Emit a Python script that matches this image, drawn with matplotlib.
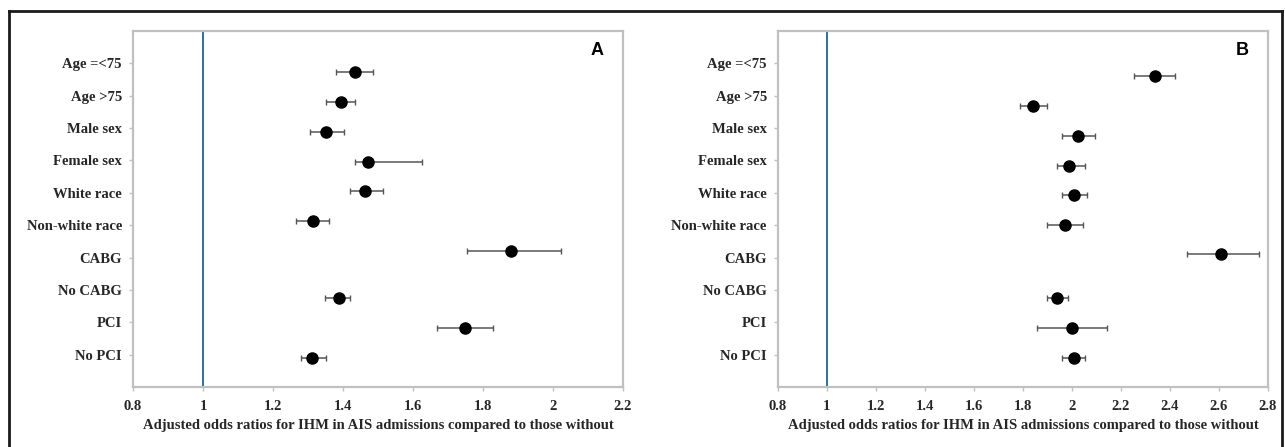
import matplotlib.pyplot as plt
from matplotlib.lines import Line2D

CATEGORIES = ['Age =<75', 'Age >75', 'Male sex', 'Female sex', 'White race',
              'Non-white race', 'CABG', 'No CABG', 'PCI', 'No PCI']

# panel A: odds ratio, lower and upper CI
OR_A = [1.433, 1.393, 1.352, 1.472, 1.462, 1.314, 1.880, 1.389, 1.748, 1.311]
LO_A = [1.381, 1.352, 1.305, 1.433, 1.421, 1.265, 1.753, 1.350, 1.668, 1.280]
HI_A = [1.485, 1.433, 1.404, 1.625, 1.515, 1.361, 2.023, 1.419, 1.828, 1.352]
ROW_A = [9.73, 8.81, 7.88, 6.95, 6.06, 5.13, 4.20, 2.75, 1.82, 0.90]

# panel B
OR_B = [2.339, 1.842, 2.024, 1.990, 2.010, 1.970, 2.608, 1.939, 1.999, 2.010]
LO_B = [2.255, 1.788, 1.960, 1.939, 1.960, 1.897, 2.469, 1.897, 1.859, 1.960]
HI_B = [2.422, 1.897, 2.094, 2.052, 2.062, 2.044, 2.763, 1.982, 2.144, 2.052]
ROW_B = [9.61, 8.68, 7.76, 6.83, 5.93, 5.01, 4.11, 2.75, 1.82, 0.90]

XTICKS_A = [0.8, 1, 1.2, 1.4, 1.6, 1.8, 2, 2.2]
XTICKS_B = [0.8, 1, 1.2, 1.4, 1.6, 1.8, 2, 2.2, 2.4, 2.6, 2.8]
XLABEL = 'Adjusted odds ratios for IHM in AIS admissions compared to those without'

SPINE_GRAY = '#c0c0c0'
TEXT_COLOR = '#262626'
SERIF = ['Liberation Serif', 'DejaVu Serif']
FONT_SIZE = 10.5


def tick_text(value):
    return f'{value:g}'


def draw_panel(ax, odds, low, high, rows, xticks, letter):
    ax.axvline(1, color='#2e6da4', linewidth=1.4, zorder=1)
    err = [[o - l for o, l in zip(odds, low)], [h - o for o, h in zip(odds, high)]]
    ax.errorbar(odds, rows, xerr=err, fmt='o', color='black', markersize=8,
                ecolor='#555555', elinewidth=1.1, capsize=2.5, capthick=1.0, zorder=3)
    ax.set_xlim(xticks[0], xticks[-1])
    ax.set_ylim(0, 11)
    ax.set_xticks(xticks)
    ax.set_xticklabels([tick_text(v) for v in xticks], family=SERIF,
                       fontweight='bold', fontsize=FONT_SIZE, color=TEXT_COLOR)
    ax.set_yticks(range(10, 0, -1))
    ax.set_yticklabels(CATEGORIES, family=SERIF, fontweight='bold',
                       fontsize=FONT_SIZE, color=TEXT_COLOR)
    ax.tick_params(axis='both', direction='out', length=3, width=1,
                   color=SPINE_GRAY)
    ax.tick_params(axis='x', pad=6)
    ax.tick_params(axis='y', pad=5)
    for spine in ax.spines.values():
        spine.set_color(SPINE_GRAY)
        spine.set_linewidth(1.6)
    ax.set_xlabel(XLABEL, family=SERIF, fontweight='bold', fontsize=FONT_SIZE,
                  color=TEXT_COLOR, labelpad=5)
    ax.text(0.948, 0.945, letter, transform=ax.transAxes, ha='center',
            va='center', fontsize=13, fontweight='bold', family='Liberation Sans')


fig = plt.figure(figsize=(12.85, 4.47), dpi=100)
ax_a = fig.add_axes([0.1035, 0.1342, 0.3813, 0.7964])
ax_b = fig.add_axes([0.6054, 0.1342, 0.3813, 0.7964])
draw_panel(ax_a, OR_A, LO_A, HI_A, ROW_A, XTICKS_A, 'A')
draw_panel(ax_b, OR_B, LO_B, HI_B, ROW_B, XTICKS_B, 'B')

# outer frame of the figure
left, right, top = 9 / 1285, 1282 / 1285, 1 - 11 / 447
for xs, ys in [([left, right], [top, top]), ([left, left], [top, -0.01]),
               ([right, right], [top, -0.01])]:
    fig.add_artist(Line2D(xs, ys, color='#1a1a1a', linewidth=2,
                          transform=fig.transFigure))

fig.savefig('out.png', dpi=100)
